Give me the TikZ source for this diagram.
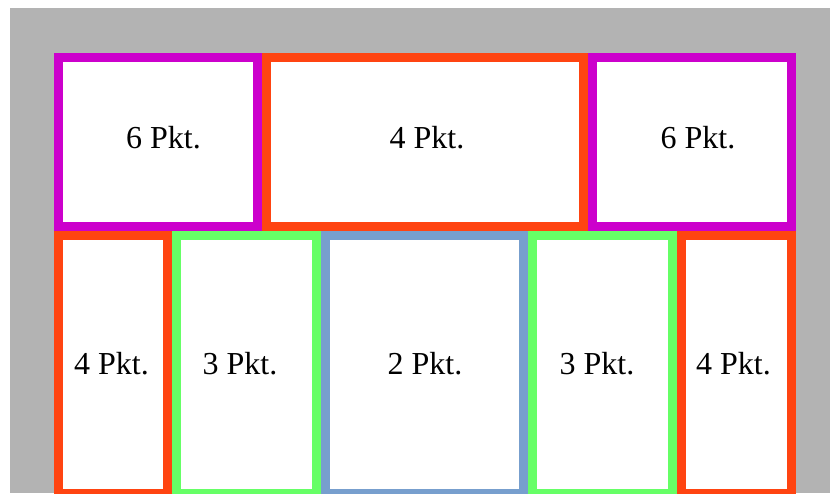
\documentclass[tikz,border=0pt]{standalone}
\usepackage{fontspec}
\setmainfont{Liberation Serif}
\usetikzlibrary{positioning}
\definecolor{wand}{RGB}{179,179,179}
\definecolor{lila}{RGB}{204,0,204}
\definecolor{rot}{RGB}{255,68,17}
\definecolor{gruen}{RGB}{102,255,102}
\definecolor{blau}{RGB}{119,159,206}

\begin{document}
\begin{tikzpicture}[
    x=1pt,y=-1pt,
    feld/.style={draw,line width=9pt,fill=white,inner sep=0pt},
    oben/.style={feld,minimum height=169pt},
    unten/.style={feld,minimum height=258pt},
    pkt/.style={anchor=base,inner sep=0pt,font=\fontsize{32}{38}\selectfont}
  ]
    \useasboundingbox (0,0) rectangle (830,493);
    \clip (0,0) rectangle (830,493);
    \fill[wand] (10,8) rectangle (830,493);
    % obere Reihe
    \node[oben,draw=lila,minimum width=199pt] (o1) at (158,142) {};
    \node[oben,draw=rot,minimum width=317pt] (o2) at (425,142) {};
    \node[oben,draw=lila,minimum width=199pt] (o3) at (692,142) {};
    % untere Reihe
    \node[unten,draw=rot,minimum width=109pt] (u1) at (113,364.5) {};
    \node[unten,draw=gruen,minimum width=140pt] (u2) at (246.5,364.5) {};
    \node[unten,draw=blau,minimum width=198pt] (u3) at (424.5,364.5) {};
    \node[unten,draw=gruen,minimum width=140pt] (u4) at (602.5,364.5) {};
    \node[unten,draw=rot,minimum width=110pt] (u5) at (736.5,364.5) {};
    % Beschriftung
    \node[pkt] (t1) at (163.5,148) {6 Pkt.};
    \node[pkt] (t2) at (427,148) {4 Pkt.};
    \node[pkt] (t3) at (698,148) {6 Pkt.};
    \node[pkt] (t4) at (111.5,374) {4 Pkt.};
    \node[pkt] (t5) at (240,374) {3 Pkt.};
    \node[pkt] (t6) at (425,374) {2 Pkt.};
    \node[pkt] (t7) at (597,374) {3 Pkt.};
    \node[pkt] (t8) at (733.5,374) {4 Pkt.};
\end{tikzpicture}
\end{document}
